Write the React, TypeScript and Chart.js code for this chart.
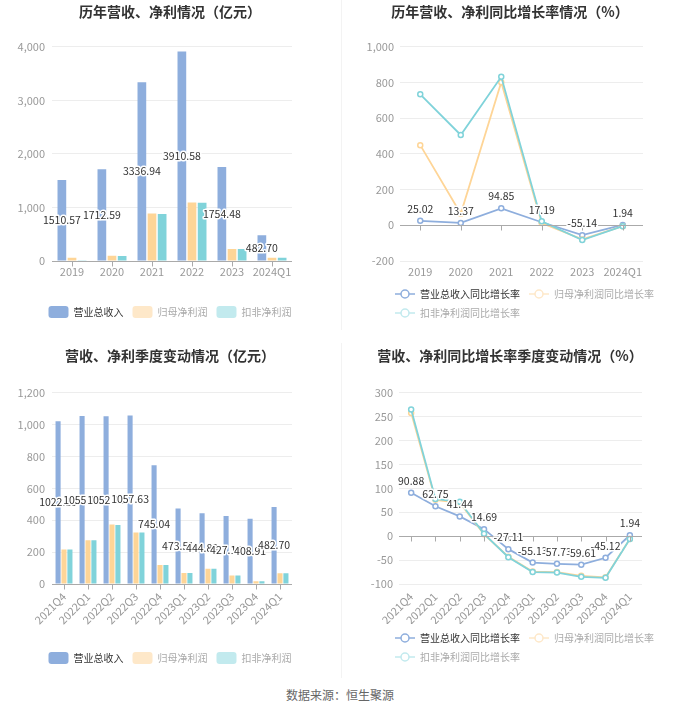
import React, { useEffect, useRef } from 'react';
import { Chart, registerables } from 'chart.js';

Chart.register(...registerables);

const FONT = '"Noto Sans CJK SC", "Microsoft YaHei", sans-serif';
Chart.defaults.font.family = FONT;

// ---------- data ----------
const years = ['2019', '2020', '2021', '2022', '2023', '2024Q1'];
const yearRevenue = [1510.57, 1712.59, 3336.94, 3910.58, 1754.48, 482.7];
const yearNetProfit = [62, 100, 887, 1094, 225, 62];
const yearDeductedProfit = [15, 94, 880, 1090, 225, 62];

const yearRevenueGrowth = [25.02, 13.37, 94.85, 17.19, -55.14, 1.94];
const yearNetProfitGrowth = [449, 65, 802, 13, -79, -5];
const yearDeductedGrowth = [734, 506, 832, 22, -83, -5];

const quarters = ['2021Q4', '2022Q1', '2022Q2', '2022Q3', '2022Q4', '2023Q1', '2023Q2', '2023Q3', '2023Q4', '2024Q1'];
const quarterRevenue = [1022.19, 1055.1, 1052.1, 1057.63, 745.04, 473.51, 444.8, 427.14, 408.91, 482.7];
const quarterNetProfit = [217, 274, 373, 324, 120, 69, 95, 53, 17, 67];
const quarterDeductedProfit = [217, 274, 370, 324, 120, 69, 95, 53, 17, 67];

const quarterRevenueGrowth = [90.88, 62.75, 41.44, 14.69, -27.11, -55.13, -57.73, -59.61, -45.12, 1.94];
const quarterNetProfitGrowth = [258, 76, 70, 4, -43, -74, -75, -83, -86, -6];
const quarterDeductedGrowth = [265, 78, 72, 5, -44, -75, -76, -85, -87, -6];

const barNames = ['营业总收入', '归母净利润', '扣非净利润'];
const lineNames = ['营业总收入同比增长率', '归母净利润同比增长率', '扣非净利润同比增长率'];

// ---------- styles ----------
const BLUE = '#8eaedd';
const ORANGE = '#fed597';
const TEAL = '#80d3da';
const FADED = [BLUE, '#fee8c9', '#c2eaee'];
const LEGEND_TEXT = ['#333333', '#aaaaaa', '#aaaaaa'];
const GRID = '#ededed';
const TICK = '#999999';

const zeroAxis = {
  id: 'zeroAxis',
  afterDatasetsDraw(chart: any) {
    const ctx = chart.ctx;
    const xs = chart.scales.x;
    const ys = chart.scales.y;
    const area = chart.chartArea;
    const y0 = Math.round(ys.getPixelForValue(0)) + 0.5;
    ctx.save();
    ctx.strokeStyle = '#aaaaaa';
    ctx.lineWidth = 1;
    ctx.beginPath();
    ctx.moveTo(area.left, y0);
    ctx.lineTo(area.right, y0);
    for (let i = 0; i < xs.ticks.length; i++) {
      const x = Math.round(xs.getPixelForTick(i)) + 0.5;
      ctx.moveTo(x, y0);
      ctx.lineTo(x, y0 + 5);
    }
    ctx.stroke();
    ctx.restore();
  },
};

const valueLabels = {
  id: 'valueLabels',
  afterDatasetsDraw(chart: any, _args: any, opts: any) {
    if (!opts || !opts.mode) return;
    const ctx = chart.ctx;
    const meta = chart.getDatasetMeta(0);
    const data = chart.data.datasets[0].data as number[];
    ctx.save();
    ctx.font = `10.5px ${FONT}`;
    ctx.textAlign = 'center';
    ctx.textBaseline = 'middle';
    ctx.lineJoin = 'round';
    ctx.lineWidth = 3;
    ctx.strokeStyle = '#ffffff';
    ctx.fillStyle = '#333333';
    meta.data.forEach((el: any, i: number) => {
      const text = data[i].toFixed(2);
      const x = el.x;
      const y = opts.mode === 'bar' ? (el.y + el.base) / 2 : el.y - 12;
      ctx.strokeText(text, x, y);
      ctx.fillText(text, x, y);
    });
    ctx.restore();
  },
};

const legendShift = {
  id: 'legendShift',
  afterLayout(chart: any, _args: any, opts: any) {
    const shift = (opts && opts.shift) || 0;
    if (shift && chart.legend) {
      chart.legend.left += shift;
      chart.legend.right += shift;
    }
  },
};

function lineIcon(color: string) {
  const c = document.createElement('canvas');
  c.width = 20;
  c.height = 12;
  const g = c.getContext('2d') as CanvasRenderingContext2D;
  g.strokeStyle = color;
  g.lineWidth = 1.5;
  g.beginPath();
  g.moveTo(0, 6);
  g.lineTo(20, 6);
  g.stroke();
  g.beginPath();
  g.arc(10, 6, 4, 0, Math.PI * 2);
  g.fillStyle = '#ffffff';
  g.fill();
  g.stroke();
  return c;
}

type Dims = {
  titlePadTop: number;
  titlePadBottom: number;
  padBottom: number;
  yWidth: number;
  yPad: number;
  rightWidth: number;
  xHeight: number;
  legendShift: number;
};

function baseOptions(title: string, d: Dims, yMin: number, yMax: number, step: number, rotate: boolean, isLine: boolean, legend: any) {
  return {
    responsive: false,
    animation: false,
    locale: 'en-US',
    layout: { padding: { left: 0, right: 0, top: 0, bottom: d.padBottom } },
    plugins: {
      title: {
        display: true,
        text: title,
        color: '#333333',
        font: { size: 14, weight: 'bold', family: FONT },
        padding: { top: d.titlePadTop, bottom: d.titlePadBottom },
      },
      legend,
      tooltip: { enabled: false },
      valueLabels: { mode: isLine ? 'line' : 'bar' },
      legendShift: { shift: d.legendShift },
    },
    scales: {
      x: {
        type: 'category',
        offset: true,
        grid: { display: false, drawTicks: false },
        border: { display: false },
        ticks: {
          color: TICK,
          font: { size: 11, family: FONT },
          padding: rotate ? 6 : 4,
          autoSkip: false,
          maxRotation: rotate ? 45 : 0,
          minRotation: rotate ? 45 : 0,
        },
        afterFit: (s: any) => {
          s.height = d.xHeight;
        },
      },
      y: {
        type: 'linear',
        position: 'left',
        min: yMin,
        max: yMax,
        grid: { color: GRID, drawTicks: false },
        border: { display: false },
        ticks: { stepSize: step, color: TICK, font: { size: 11, family: FONT }, padding: d.yPad },
        afterFit: (s: any) => {
          s.width = d.yWidth;
        },
      },
      yR: {
        type: 'linear',
        position: 'right',
        display: true,
        grid: { display: false, drawTicks: false },
        border: { display: false },
        ticks: { display: false },
        afterFit: (s: any) => {
          s.width = d.rightWidth;
        },
      },
    },
  };
}

function barLegend() {
  return {
    display: true,
    position: 'bottom',
    align: 'center',
    onClick: () => {},
    labels: {
      boxWidth: 20,
      boxHeight: 12,
      padding: 9,
      useBorderRadius: true,
      borderRadius: 3,
      font: { size: 10, family: FONT },
      generateLabels: () =>
        barNames.map((t, i) => ({
          text: t,
          fillStyle: FADED[i],
          strokeStyle: FADED[i],
          lineWidth: 0,
          fontColor: LEGEND_TEXT[i],
          hidden: false,
          datasetIndex: i,
          borderRadius: 3,
        })),
    },
  };
}

function lineLegend() {
  const icons = FADED.map((c) => lineIcon(c));
  return {
    display: true,
    position: 'bottom',
    align: 'start',
    onClick: () => {},
    labels: {
      usePointStyle: true,
      pointStyleWidth: 20,
      boxHeight: 10,
      padding: 9,
      font: { size: 10, family: FONT },
      generateLabels: () =>
        lineNames.map((t, i) => ({
          text: t,
          fillStyle: FADED[i],
          strokeStyle: FADED[i],
          lineWidth: 1.5,
          fontColor: LEGEND_TEXT[i],
          hidden: false,
          datasetIndex: i,
          pointStyle: icons[i],
        })),
    },
  };
}

function barConfig(title: string, labels: string[], a: number[], b: number[], c: number[], d: Dims, yMax: number, step: number, rotate: boolean, catPct: number) {
  const ds = [a, b, c].map((data, i) => ({
    label: barNames[i],
    data,
    backgroundColor: [BLUE, ORANGE, TEAL][i],
    categoryPercentage: catPct,
    barPercentage: 0.86,
    yAxisID: 'y',
  }));
  return {
    type: 'bar',
    data: { labels, datasets: ds },
    options: baseOptions(title, d, 0, yMax, step, rotate, false, barLegend()),
    plugins: [zeroAxis, valueLabels, legendShift],
  };
}

function lineConfig(title: string, labels: string[], a: number[], b: number[], c: number[], d: Dims, yMin: number, yMax: number, step: number, rotate: boolean) {
  const ds = [a, b, c].map((data, i) => ({
    label: lineNames[i],
    data,
    borderColor: [BLUE, ORANGE, TEAL][i],
    backgroundColor: '#ffffff',
    pointBackgroundColor: '#ffffff',
    pointBorderColor: [BLUE, ORANGE, TEAL][i],
    pointRadius: 2.5,
    pointBorderWidth: 1.5,
    borderWidth: 1.8,
    tension: 0,
    fill: false,
    order: 2 - i,
    yAxisID: 'y',
  }));
  return {
    type: 'line',
    data: { labels, datasets: ds },
    options: baseOptions(title, d, yMin, yMax, step, rotate, true, lineLegend()),
    plugins: [zeroAxis, valueLabels, legendShift],
  };
}

function Panel({ left, top, make }: { left: number; top: number; make: () => any }) {
  const ref = useRef<HTMLCanvasElement | null>(null);
  useEffect(() => {
    if (!ref.current) return;
    const chart = new Chart(ref.current, make());
    return () => chart.destroy();
  }, []);
  return (
    <div style={{ position: 'absolute', left, top, width: 340, height: 340 }}>
      <canvas ref={ref} width={340} height={340} style={{ display: 'block' }} />
    </div>
  );
}

const leftTop: Dims = { titlePadTop: 3, titlePadBottom: 27, padBottom: 12, yWidth: 52, yPad: 7, rightWidth: 48, xHeight: 36, legendShift: 0 };
const rightTop: Dims = { titlePadTop: 3, titlePadBottom: 27, padBottom: 12, yWidth: 60, yPad: 6, rightWidth: 37, xHeight: 19, legendShift: 46 };
const leftBottom: Dims = { titlePadTop: 7, titlePadBottom: 29, padBottom: 6, yWidth: 52, yPad: 7, rightWidth: 48, xHeight: 59, legendShift: 0 };
const rightBottom: Dims = { titlePadTop: 7, titlePadBottom: 29, padBottom: 8, yWidth: 59, yPad: 6, rightWidth: 38, xHeight: 40, legendShift: 46 };

export default function App() {
  return (
    <div style={{ position: 'absolute', left: 0, top: 0, width: 680, height: 712, background: '#ffffff', fontFamily: FONT, overflow: 'hidden' }}>
      <Panel
        left={0}
        top={0}
        make={() => barConfig('历年营收、净利情况（亿元）', years, yearRevenue, yearNetProfit, yearDeductedProfit, leftTop, 4000, 1000, false, 0.76)}
      />
      <Panel
        left={340}
        top={0}
        make={() => lineConfig('历年营收、净利同比增长率情况（%）', years, yearRevenueGrowth, yearNetProfitGrowth, yearDeductedGrowth, rightTop, -200, 1000, 200, false)}
      />
      <Panel
        left={0}
        top={340}
        make={() => barConfig('营收、净利季度变动情况（亿元）', quarters, quarterRevenue, quarterNetProfit, quarterDeductedProfit, leftBottom, 1200, 200, true, 0.74)}
      />
      <Panel
        left={340}
        top={340}
        make={() => lineConfig('营收、净利同比增长率季度变动情况（%）', quarters, quarterRevenueGrowth, quarterNetProfitGrowth, quarterDeductedGrowth, rightBottom, -100, 300, 50, true)}
      />
      <div style={{ position: 'absolute', left: 341, top: 0, width: 1, height: 330, background: '#f3f3f3' }} />
      <div style={{ position: 'absolute', left: 341, top: 343, width: 1, height: 335, background: '#f3f3f3' }} />
      <div style={{ position: 'absolute', left: 0, top: 686, width: 680, textAlign: 'center', fontSize: 12, lineHeight: '18px', color: '#666666' }}>
        数据来源：恒生聚源
      </div>
    </div>
  );
}
